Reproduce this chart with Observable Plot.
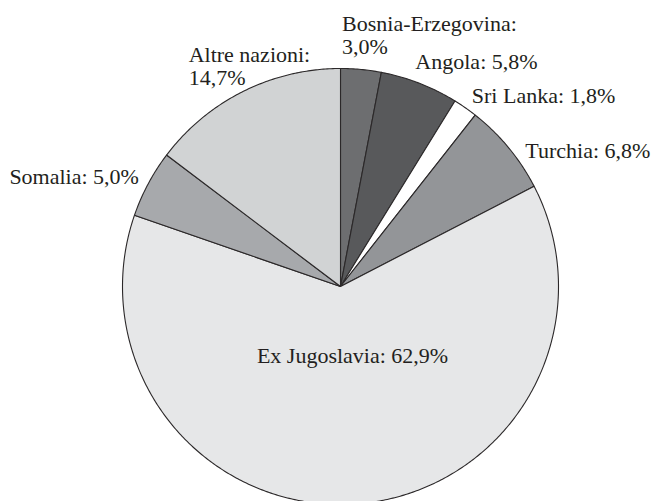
<!DOCTYPE html>
<html>
<head>
<meta charset="utf-8">
<script src="https://cdn.jsdelivr.net/npm/d3@7"></script>
<script src="https://cdn.jsdelivr.net/npm/@observablehq/plot@0.6"></script>
<style>
  html, body { margin: 0; padding: 0; background: #fff; }
  #chart svg { display: block; }
  #chart svg text { font-family: "Liberation Serif", "Times New Roman", serif; }
</style>
</head>
<body>
<div id="chart"></div>
<script>
// Data (clockwise from the top)
const countries = ["Bosnia-Erzegovina", "Angola", "Sri Lanka", "Turchia", "Ex Jugoslavia", "Somalia", "Altre nazioni"];
const shares = [3.0, 5.8, 1.8, 6.8, 62.9, 5.0, 14.7];
const sliceColors = ["#6d6e70", "#58595b", "#ffffff", "#939598", "#e6e7e8", "#a7a9ac", "#d1d3d4"];
const labelBreak = [true, false, false, false, false, false, true];

// Label layout (radius in pie units, pixel nudges, anchor)
const labelRadius = [1.1, 1.1, 1.1, 1.1, 0.32, 1.1, 1.1];
const labelDx = [-21, -12, -6, 0, 7, 10, -45];
const labelDy = [-13, -1.5, 5.6, 17, 0, 3, -6];
const labelAnchor = ["start", "start", "start", "start", "middle", "end", "start"];

// Geometry
const W = 659, H = 501, CX = 340, CY = 286, R = 218;
const total = d3.sum(shares);
const slices = [];
let acc = 0;
countries.forEach((name, i) => {
  const a0 = acc / total * 2 * Math.PI;
  acc += shares[i];
  const a1 = acc / total * 2 * Math.PI;
  slices.push({name, i, a0, a1, mid: (a0 + a1) / 2});
});

const polyPts = [];
for (const s of slices) {
  polyPts.push({name: s.name, color: sliceColors[s.i], x: 0, y: 0});
  const n = Math.max(2, Math.ceil((s.a1 - s.a0) / (Math.PI / 360)));
  for (let k = 0; k <= n; k++) {
    const a = s.a0 + (s.a1 - s.a0) * k / n;
    polyPts.push({name: s.name, color: sliceColors[s.i], x: Math.sin(a), y: Math.cos(a)});
  }
  polyPts.push({name: s.name, color: sliceColors[s.i], x: 0, y: 0});
}

const fmt = v => v.toFixed(1).replace(".", ",") + "%";
const labels = slices.map(s => ({
  text: countries[s.i] + ":" + (labelBreak[s.i] ? "\n" : " ") + fmt(shares[s.i]),
  x: labelRadius[s.i] * Math.sin(s.mid),
  y: labelRadius[s.i] * Math.cos(s.mid),
  dx: labelDx[s.i], dy: labelDy[s.i], anchor: labelAnchor[s.i]
}));

const textMarks = labels.map(l => Plot.text([l], {
  x: "x", y: "y", text: "text", dx: l.dx, dy: l.dy,
  textAnchor: l.anchor, lineAnchor: "middle", lineHeight: 1.05,
  fill: "#231f20", fontSize: 22, fontFamily: "Liberation Serif"
}));

const chart = Plot.plot({
  width: W, height: H,
  marginLeft: 0, marginRight: 0, marginTop: 0, marginBottom: 0,
  x: {domain: [-CX / R, (W - CX) / R], axis: null},
  y: {domain: [(CY - H) / R, CY / R], axis: null},
  color: {type: "identity"},
  style: {background: "#fff", fontFamily: "Liberation Serif"},
  marks: [
    Plot.line(polyPts, {x: "x", y: "y", z: "name", fill: "color", stroke: "#2b2829", strokeWidth: 1.1, curve: "linear", strokeLinejoin: "round"}),
    ...textMarks
  ]
});
document.getElementById("chart").appendChild(chart);
</script>
</body>
</html>
